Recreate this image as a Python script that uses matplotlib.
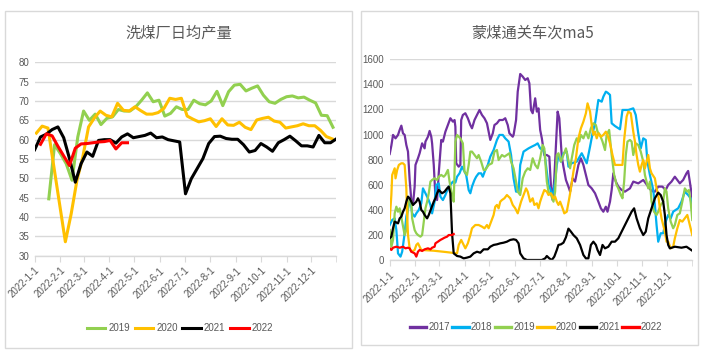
import numpy as np
import pandas as pd
import matplotlib
matplotlib.use("Agg")
import matplotlib.pyplot as plt
from matplotlib.patches import Rectangle

plt.rcParams['font.family'] = ['Liberation Sans Narrow', 'Liberation Sans', 'Noto Sans CJK SC', 'DejaVu Sans']

# ---- left chart: weekly washing-plant output, x = day of year, weekly step ----
start_2019 = 17
wash_2019 = [44.7, 58.7, 56.4, 53.8, 49.5, 60.7, 67.4, 65.0, 66.6, 63.9, 65.5, 65.9,
             67.8, 67.4, 67.4, 68.5, 70.2, 72.1, 69.8, 70.2, 66.1, 66.8, 68.5, 67.8,
             67.8, 70.2, 69.3, 69.0, 70.0, 72.5, 68.8, 72.4, 74.1, 74.3, 72.6, 73.3,
             73.9, 71.5, 69.8, 69.4, 70.4, 71.1, 71.3, 70.8, 71.0, 70.2, 69.5, 66.3,
             66.2, 63.2]
start_2020 = 2
wash_2020 = [61.7, 63.5, 63.0, 53.2, 43.4, 33.6, 40.8, 49.5, 55.5, 63.3, 65.6, 67.4,
             66.3, 65.9, 69.4, 67.6, 67.4, 68.5, 67.5, 66.6, 66.6, 67.0, 68.1, 70.7,
             70.4, 70.7, 66.1, 65.3, 64.6, 64.9, 65.4, 63.4, 65.4, 63.8, 63.7, 64.5,
             63.2, 62.6, 65.1, 65.5, 65.8, 64.8, 64.5, 63.0, 63.3, 63.6, 64.1, 63.6,
             63.6, 62.4, 60.8, 60.2]
start_2021 = 0
wash_2021 = [57.4, 60.7, 61.4, 62.6, 63.3, 60.5, 55.1, 49.0, 53.8, 56.8, 55.7, 59.8,
             60.0, 60.0, 59.1, 60.7, 61.5, 60.5, 60.8, 61.1, 61.7, 60.5, 60.7, 60.0,
             59.7, 59.4, 46.0, 49.9, 52.5, 55.1, 59.0, 60.8, 60.9, 60.3, 60.1, 60.1,
             58.7, 56.8, 57.2, 59.0, 58.1, 57.0, 59.2, 60.0, 60.9, 59.7, 58.4, 58.4,
             58.1, 61.1, 59.2, 59.2, 60.2]
start_2022 = 7
wash_2022 = [58.8, 61.5, 61.0, 58.3, 55.8, 53.3, 57.8, 58.9, 59.0, 59.2, 59.4, 59.5,
             59.8, 57.6, 59.2, 59.2]

# ---- right chart: Mongolian coal border crossings ma5, (day of year, trucks) ----
day_2017 = [0, 2, 4, 7, 10, 12, 14, 16, 18, 20, 22, 24, 26, 28, 30, 31, 34, 36, 39, 42,
            43, 46, 48, 50, 51, 53, 55, 57, 59, 62, 64, 67, 70, 73, 76, 78, 79, 80, 83, 85,
            86, 88, 91, 94, 97, 99, 102, 105, 108, 111, 114, 117, 119, 121, 124, 126, 129,
            132, 136, 139, 142, 144, 148, 149, 152, 154, 157, 160, 163, 166, 168, 170, 172,
            175, 177, 179, 181, 183, 186, 189, 192, 194, 196, 198, 202, 204, 207, 209, 212,
            215, 217, 220, 223, 227, 230, 233, 236, 239, 243, 247, 251, 254, 257, 260, 262,
            265, 267, 269, 272, 275, 279, 283, 289, 293, 299, 305, 311, 315, 319, 323, 328,
            332, 335, 339, 343, 346, 349, 353, 357, 359, 361, 364]
val_2017 = [845, 912, 997, 970, 997, 1037, 1071, 1010, 997, 917, 864, 638, 478, 439, 585,
            758, 811, 851, 930, 890, 944, 983, 1029, 983, 930, 758, 505, 478, 691, 957, 944,
            1023, 1076, 1130, 1103, 1116, 1063, 771, 744, 758, 1116, 1156, 1170, 1130, 1076,
            1050, 1116, 1156, 1196, 1156, 1130, 1090, 1023, 957, 1010, 1076, 1090, 1116,
            1116, 1130, 1076, 1010, 983, 997, 1116, 1342, 1483, 1462, 1435, 1449, 1409, 1196,
            1170, 1289, 1183, 1209, 1037, 970, 837, 837, 824, 585, 478, 651, 1183, 1130, 824,
            744, 638, 585, 545, 651, 625, 758, 811, 758, 678, 598, 571, 532, 465, 412, 385,
            425, 385, 465, 558, 691, 625, 585, 558, 545, 571, 625, 611, 638, 585, 550, 545,
            585, 585, 558, 598, 625, 664, 638, 611, 638, 691, 710, 625, 490]

day_2018 = [0, 3, 6, 8, 10, 13, 15, 18, 20, 23, 25, 27, 30, 32, 35, 38, 40, 42, 46, 49,
            51, 54, 56, 59, 61, 64, 67, 70, 73, 76, 79, 81, 84, 87, 89, 92, 95, 97, 99, 102,
            104, 107, 110, 112, 115, 118, 121, 125, 129, 132, 136, 139, 143, 146, 149, 152,
            155, 157, 161, 164, 167, 171, 175, 178, 181, 184, 186, 189, 191, 193, 195, 197,
            199, 201, 203, 206, 209, 213, 215, 219, 225, 231, 237, 241, 244, 247, 251, 255,
            257, 260, 262, 265, 267, 271, 277, 280, 287, 293, 296, 299, 302, 305, 308, 310,
            313, 317, 319, 321, 323, 326, 329, 332, 335, 338, 341, 344, 347, 351, 355, 359,
            362, 364]
val_2018 = [279, 319, 332, 239, 53, 27, 66, 213, 346, 439, 478, 372, 346, 372, 399, 452,
            571, 545, 492, 439, 372, 465, 598, 611, 505, 478, 518, 571, 598, 625, 617, 664,
            691, 744, 718, 678, 558, 532, 585, 638, 664, 691, 691, 664, 718, 758, 824, 877,
            957, 997, 997, 970, 944, 837, 651, 545, 545, 758, 864, 877, 890, 904, 917, 930,
            890, 877, 864, 704, 598, 571, 518, 545, 625, 758, 837, 784, 851, 864, 744, 771,
            784, 851, 771, 904, 1010, 1090, 1276, 1262, 1302, 1342, 1334, 1316, 1090, 1068,
            1042, 1196, 1196, 1209, 1156, 1010, 890, 970, 957, 784, 678, 558, 439, 279, 146,
            213, 213, 306, 359, 332, 385, 399, 412, 465, 545, 518, 492, 385]

day_2019 = [0, 2, 4, 6, 8, 10, 12, 15, 18, 20, 22, 24, 26, 27, 30, 32, 34, 37, 39, 41,
            43, 45, 47, 49, 51, 54, 57, 59, 62, 65, 67, 70, 72, 75, 77, 79, 81, 85, 88, 90,
            93, 95, 97, 99, 102, 105, 107, 110, 113, 115, 119, 123, 126, 129, 131, 135, 138,
            141, 144, 146, 149, 152, 154, 157, 160, 163, 166, 169, 172, 175, 178, 181, 184,
            186, 189, 191, 194, 197, 199, 201, 203, 206, 209, 212, 215, 217, 219, 222, 225,
            228, 230, 233, 236, 239, 242, 245, 248, 250, 253, 256, 259, 261, 264, 267, 270,
            273, 275, 278, 280, 282, 284, 286, 289, 291, 293, 296, 299, 302, 305, 307, 309,
            311, 313, 315, 318, 321, 323, 326, 329, 331, 333, 335, 338, 341, 343, 346, 349,
            352, 355, 358, 360, 362, 364]
val_2019 = [239, 106, 160, 372, 425, 385, 412, 306, 199, 239, 425, 492, 465, 332, 239,
            213, 199, 186, 199, 306, 412, 465, 532, 625, 638, 651, 638, 664, 678, 664, 678,
            718, 625, 518, 465, 944, 997, 970, 930, 704, 678, 758, 864, 864, 837, 811, 837,
            784, 718, 718, 758, 771, 864, 877, 797, 837, 824, 837, 851, 784, 731, 625, 545,
            518, 651, 704, 731, 718, 811, 758, 731, 811, 917, 890, 625, 545, 518, 465, 545,
            837, 851, 784, 837, 890, 797, 731, 811, 917, 970, 944, 997, 970, 1023, 970, 1050,
            1090, 1076, 1023, 997, 944, 877, 997, 1037, 837, 678, 598, 571, 518, 492, 625,
            837, 944, 957, 944, 837, 930, 917, 864, 784, 678, 625, 571, 625, 465, 385, 359,
            385, 439, 465, 571, 545, 412, 306, 253, 279, 359, 372, 465, 571, 545, 558, 465,
            319]

day_2020 = [0, 2, 3, 6, 7, 9, 11, 14, 16, 18, 20, 21, 22, 24, 26, 30, 32, 34, 36, 38,
            53, 67, 81, 83, 86, 89, 91, 94, 97, 99, 103, 107, 111, 114, 117, 119, 122, 125,
            127, 129, 131, 133, 135, 138, 141, 145, 148, 151, 154, 158, 161, 164, 166, 169,
            172, 174, 177, 179, 181, 183, 186, 189, 191, 194, 197, 199, 201, 203, 205, 208,
            210, 213, 216, 218, 221, 224, 227, 230, 233, 236, 238, 241, 243, 245, 247, 249,
            251, 254, 257, 260, 262, 265, 268, 271, 275, 280, 282, 285, 287, 290, 293, 295,
            297, 299, 301, 303, 305, 307, 309, 311, 313, 315, 319, 321, 323, 325, 327, 329,
            331, 333, 335, 338, 341, 343, 346, 349, 352, 355, 358, 361, 364]
val_2020 = [319, 518, 678, 731, 651, 718, 758, 771, 771, 758, 571, 359, 199, 93, 66, 80,
            120, 133, 106, 80, 74, 64, 53, 120, 160, 120, 93, 133, 199, 253, 279, 279, 266,
            253, 279, 253, 306, 359, 425, 439, 412, 465, 478, 492, 518, 492, 439, 412, 372,
            465, 518, 571, 545, 465, 492, 439, 452, 412, 465, 505, 558, 545, 518, 532, 492,
            505, 465, 439, 465, 412, 372, 385, 492, 571, 704, 811, 970, 1050, 1103, 1170,
            1249, 1183, 1076, 997, 1023, 970, 1010, 983, 997, 1023, 997, 930, 837, 758, 758,
            758, 957, 1143, 1183, 1170, 1023, 944, 837, 758, 704, 758, 797, 731, 784, 837,
            731, 691, 651, 571, 518, 412, 332, 279, 226, 146, 146, 93, 106, 173, 253, 319,
            306, 332, 359, 279, 199]

day_2021 = [0, 2, 4, 6, 10, 12, 14, 16, 18, 20, 22, 24, 26, 28, 30, 32, 34, 36, 38, 40,
            42, 45, 47, 50, 53, 55, 57, 59, 61, 63, 66, 69, 71, 73, 75, 77, 81, 85, 89, 93,
            97, 101, 105, 109, 113, 118, 121, 125, 129, 133, 137, 141, 145, 149, 152, 155,
            157, 161, 165, 173, 183, 187, 189, 192, 195, 198, 201, 203, 206, 209, 212, 215,
            218, 221, 225, 229, 233, 236, 239, 242, 245, 248, 250, 253, 256, 259, 263, 267,
            271, 275, 279, 283, 287, 291, 294, 297, 301, 305, 308, 311, 315, 319, 323, 326,
            329, 331, 333, 335, 337, 343, 351, 357, 364]
val_2021 = [173, 186, 253, 306, 292, 332, 346, 385, 412, 465, 505, 492, 465, 439, 452,
            465, 492, 465, 399, 385, 359, 332, 359, 412, 465, 492, 532, 558, 545, 532, 545,
            571, 585, 532, 213, 53, 32, 27, 13, 19, 27, 53, 66, 58, 85, 85, 106, 120, 125,
            133, 138, 146, 160, 165, 160, 133, 53, 13, 0, 0, 0, 13, 32, 13, 0, 27, 80, 120,
            125, 138, 181, 250, 226, 199, 173, 120, 40, 13, 13, 120, 146, 120, 80, 40, 120,
            93, 106, 146, 146, 173, 226, 279, 332, 385, 412, 332, 253, 199, 226, 332, 412,
            492, 537, 518, 465, 359, 199, 120, 93, 106, 98, 106, 74]

day_2022 = [0, 2, 4, 8, 12, 16, 19, 22, 24, 26, 30, 32, 34, 36, 39, 42, 46, 49, 51, 54,
            55, 58, 61, 63, 66, 69, 71, 75, 77]
val_2022 = [93, 80, 98, 106, 98, 106, 93, 98, 93, 66, 53, 27, 66, 80, 72, 85, 93, 85, 98,
            106, 133, 146, 160, 167, 178, 186, 199, 199, 207]

GREEN, YELLOW, BLACK, RED = '#92D050', '#FFC000', '#000000', '#FF0000'
PURPLE, BLUE = '#7030A0', '#00B0F0'
TXT = '#595959'
GRID = '#D9D9D9'

month_days = [(d - pd.Timestamp('2022-01-01')).days
              for d in pd.date_range('2022-01-01', periods=12, freq='MS')]
month_labels = ['2022-%d-1' % m for m in range(1, 13)]

fig = plt.figure(figsize=(7.14, 3.57), dpi=100)

# panel frames
for x0, x1, y0, y1 in [(5, 352, 11, 348), (361, 698, 11, 345)]:
    fig.patches.append(Rectangle((x0 / 714, 1 - y1 / 357), (x1 - x0) / 714, (y1 - y0) / 357,
                                 transform=fig.transFigure, fill=False,
                                 edgecolor=GRID, linewidth=1.0))


def style_axes(ax, ymin, ymax, ystep):
    ax.set_xlim(0, 364)
    ax.set_ylim(ymin, ymax)
    ax.set_yticks(np.arange(ymin, ymax + 1, ystep))
    ax.set_xticks(month_days)
    ax.set_xticklabels(month_labels, rotation=45, ha='right', va='top',
                       rotation_mode='anchor')
    ax.set_xticks([364], minor=True)
    ax.grid(axis='y', color=GRID, linewidth=1.0)
    ax.set_axisbelow(True)
    for s in ['top', 'right', 'left']:
        ax.spines[s].set_visible(False)
    ax.spines['bottom'].set_color(GRID)
    ax.spines['bottom'].set_linewidth(1.0)
    ax.tick_params(axis='y', length=0, labelsize=7, colors=TXT, pad=4)
    ax.tick_params(axis='x', which='both', length=4, color=GRID, labelsize=7,
                   labelcolor=TXT, pad=3)


# left chart
ax1 = fig.add_axes([34.7 / 714, 1 - 255.7 / 357, 301.6 / 714, 193.4 / 357])
style_axes(ax1, 30, 80, 5)
for start, vals, c, lab in [(start_2019, wash_2019, GREEN, '2019'),
                            (start_2020, wash_2020, YELLOW, '2020'),
                            (start_2021, wash_2021, BLACK, '2021'),
                            (start_2022, wash_2022, RED, '2022')]:
    x = start + 7 * np.arange(len(vals))
    ax1.plot(x, vals, color=c, lw=2.2, label=lab, solid_joinstyle='round')
leg1 = fig.legend(*ax1.get_legend_handles_labels(), loc='center',
                  bbox_to_anchor=(180 / 714, 1 - 328 / 357), ncol=4, frameon=False,
                  fontsize=7, handlelength=1.9, handletextpad=0.3, columnspacing=0.5)
for t in leg1.get_texts():
    t.set_color(TXT)
fig.text(178.5 / 714, 1 - 33 / 357, '洗煤厂日均产量', ha='center', va='center',
         fontsize=11, color=TXT, family=['Noto Sans CJK SC', 'DejaVu Sans'])

# right chart
ax2 = fig.add_axes([389.7 / 714, 1 - 260 / 357, 302.6 / 714, 200.7 / 357])
style_axes(ax2, 0, 1600, 200)
for d, v, c, lab in [(day_2017, val_2017, PURPLE, '2017'),
                     (day_2018, val_2018, BLUE, '2018'),
                     (day_2019, val_2019, GREEN, '2019'),
                     (day_2020, val_2020, YELLOW, '2020'),
                     (day_2021, val_2021, BLACK, '2021'),
                     (day_2022, val_2022, RED, '2022')]:
    ax2.plot(d, v, color=c, lw=1.6, label=lab)
leg2 = fig.legend(*ax2.get_legend_handles_labels(), loc='center',
                  bbox_to_anchor=(536 / 714, 1 - 327 / 357), ncol=6, frameon=False,
                  fontsize=7, handlelength=1.7, handletextpad=0.2, columnspacing=0.25)
for t in leg2.get_texts():
    t.set_color(TXT)
for h in leg2.legend_handles:
    h.set_linewidth(2.4)
fig.text(533 / 714, 1 - 33 / 357, '蒙煤通关车次ma5', ha='center', va='center',
         fontsize=11, color=TXT, family=['Noto Sans CJK SC', 'DejaVu Sans'])

fig.savefig('out.png', dpi=100)
